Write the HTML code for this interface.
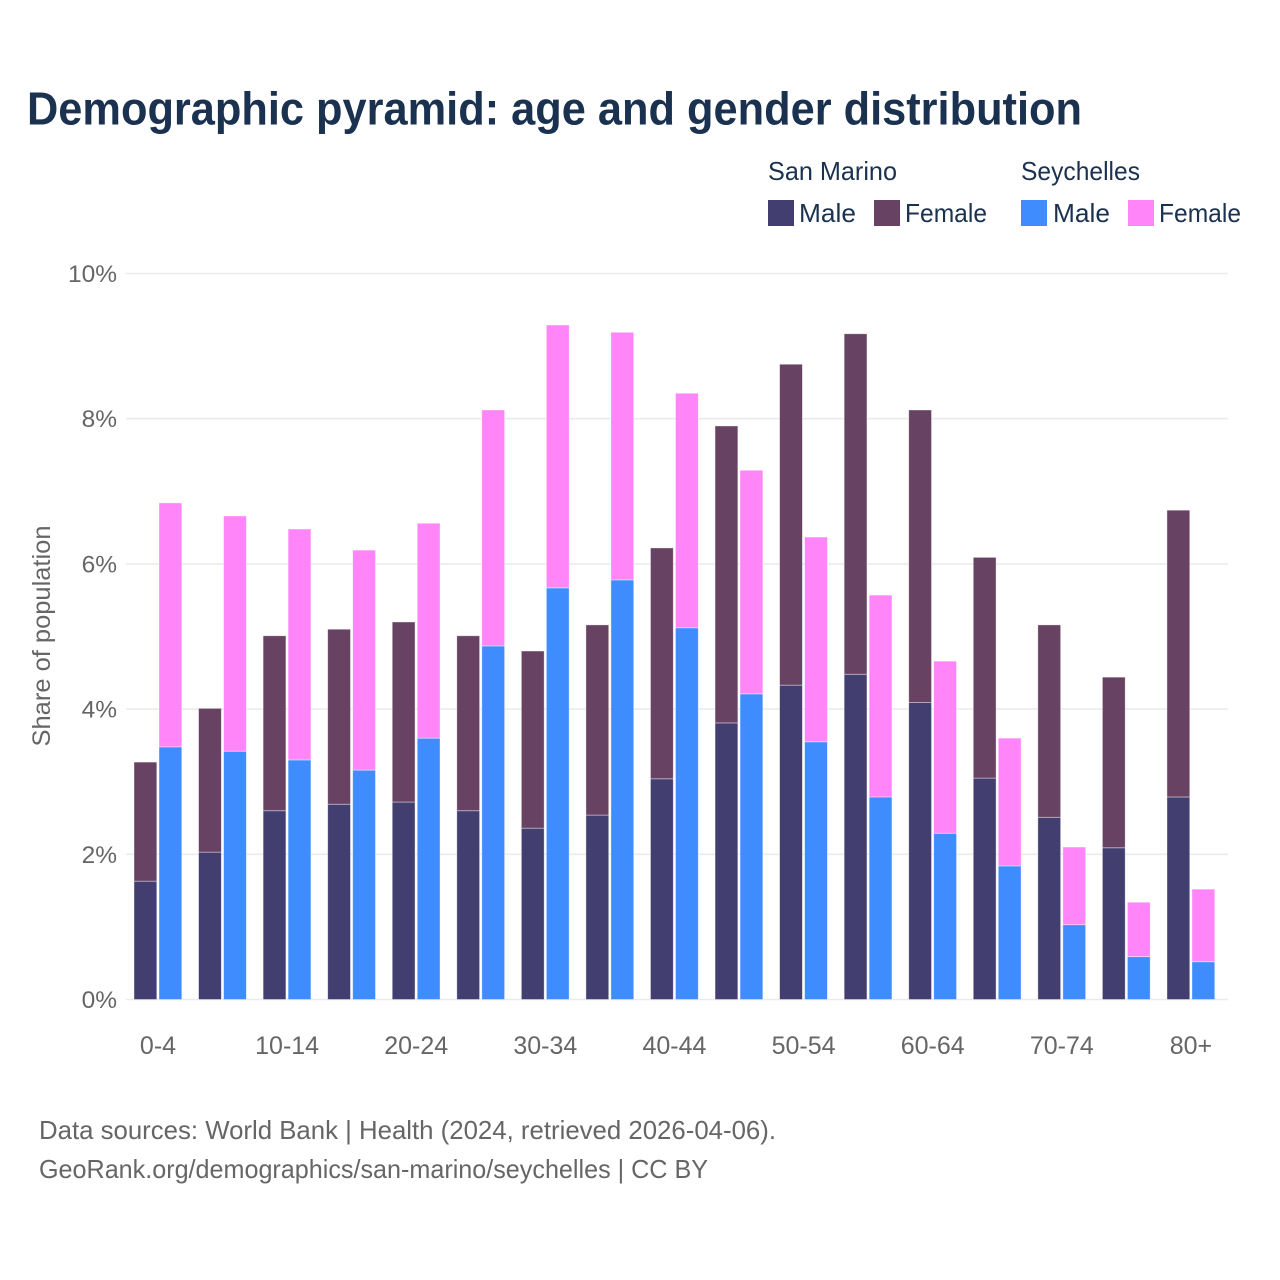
<!DOCTYPE html>
<html lang="en">
<head>
<meta charset="utf-8">
<title>Demographic pyramid</title>
<style>
html,body{margin:0;padding:0;background:#fff;width:1280px;height:1280px;overflow:hidden}
svg{display:block;font-family:"Liberation Sans",Arial,sans-serif}
</style>
</head>
<body>
<svg id="chart" xmlns="http://www.w3.org/2000/svg" width="1280" height="1280" viewBox="0 0 1280 1280">
  <rect x="0" y="0" width="1280" height="1280" fill="#fff"/>
  <text x="27" y="124.5" font-size="46" font-weight="700" fill="#1a3150" textLength="1055" lengthAdjust="spacingAndGlyphs">Demographic pyramid: age and gender distribution</text>
  <g font-size="26" fill="#1a3150">
    <text x="768" y="180" textLength="129" lengthAdjust="spacingAndGlyphs">San Marino</text>
    <text x="1021" y="180" textLength="119" lengthAdjust="spacingAndGlyphs">Seychelles</text>
    <rect x="768" y="200" width="26" height="26" fill="#423f70"/>
    <text x="799" y="222" textLength="57" lengthAdjust="spacingAndGlyphs">Male</text>
    <rect x="874" y="200" width="26" height="26" fill="#674262"/>
    <text x="905" y="222" textLength="82" lengthAdjust="spacingAndGlyphs">Female</text>
    <rect x="1021" y="200" width="26" height="26" fill="#3f8cff"/>
    <text x="1053" y="222" textLength="57" lengthAdjust="spacingAndGlyphs">Male</text>
    <rect x="1128" y="200" width="26" height="26" fill="#ff85f8"/>
    <text x="1159" y="222" textLength="82" lengthAdjust="spacingAndGlyphs">Female</text>
  </g>
  <g id="grid"></g>
  <g id="bars"></g>
  <g id="yticks"></g>
  <g id="xticks"></g>
  <text transform="translate(50,636) rotate(-90)" text-anchor="middle" font-size="25" fill="#666" textLength="221" lengthAdjust="spacingAndGlyphs">Share of population</text>
  <text x="39" y="1139" font-size="26" fill="#666" textLength="737" lengthAdjust="spacingAndGlyphs">Data sources: World Bank | Health (2024, retrieved 2026-04-06).</text>
  <text x="39" y="1178" font-size="26" fill="#666" textLength="669" lengthAdjust="spacingAndGlyphs">GeoRank.org/demographics/san-marino/seychelles | CC BY</text>
</svg>
<script>
const categories = ["0-4","5-9","10-14","15-19","20-24","25-29","30-34","35-39","40-44","45-49","50-54","55-59","60-64","65-69","70-74","75-79","80+"];
const sanMarinoMale = [1.63,2.03,2.60,2.69,2.72,2.60,2.36,2.54,3.04,3.81,4.33,4.48,4.09,3.05,2.51,2.09,2.79];
const sanMarinoFemale = [1.64,1.98,2.41,2.41,2.48,2.41,2.44,2.62,3.18,4.09,4.42,4.69,4.03,3.04,2.65,2.35,3.95];
const seychellesMale = [3.48,3.42,3.30,3.16,3.60,4.87,5.67,5.78,5.12,4.21,3.55,2.79,2.29,1.84,1.03,0.59,0.52];
const seychellesFemale = [3.36,3.24,3.18,3.03,2.96,3.25,3.62,3.41,3.23,3.08,2.82,2.78,2.37,1.76,1.07,0.75,1.00];
const yTicks = [0,2,4,6,8,10];

const NS = "http://www.w3.org/2000/svg";
function yScale(v){ return 999.5 - v * 72.6; }
function xBand(i){ return 158 + i * 64.56; }
function make(tag, attrs, parent){
  const el = document.createElementNS(NS, tag);
  for (const k in attrs) el.setAttribute(k, attrs[k]);
  parent.appendChild(el);
  return el;
}
const gridG = document.getElementById("grid");
const barsG = document.getElementById("bars");
const yG = document.getElementById("yticks");
const xG = document.getElementById("xticks");

yTicks.forEach(function(t){
  const line = make("line", {x1:126, x2:1228, y1:yScale(t), y2:yScale(t), stroke:"#ebebeb", "stroke-width":1.6}, gridG);
  
  
  const lab = make("text", {x:117, y:yScale(t)+8.5, "text-anchor":"end", "font-size":24.5, fill:"#666"}, yG);
  
  
  lab.textContent = t + "%";
});

function drawBar(x, bottom, value, fill){
  const top = yScale(bottom + value);
  const base = yScale(bottom);
  const r = make("rect", {x:x, y:top, width:22.8, height:base-top, fill:fill, stroke:"#fff", "stroke-opacity":0.5, "stroke-width":0.8}, barsG);
  
  
}
categories.forEach(function(c, i){
  const cx = xBand(i);
  drawBar(cx-24, 0, sanMarinoMale[i], "#423f70");
  drawBar(cx-24, sanMarinoMale[i], sanMarinoFemale[i], "#674262");
  drawBar(cx+1, 0, seychellesMale[i], "#3f8cff");
  drawBar(cx+1, seychellesMale[i], seychellesFemale[i], "#ff85f8");
  if (i % 2 === 0){
    const lab = make("text", {x:cx, y:1054, "text-anchor":"middle", "font-size":25, fill:"#666"}, xG);
    
    
    lab.textContent = c;
  }
});
</script>
</body>
</html>
